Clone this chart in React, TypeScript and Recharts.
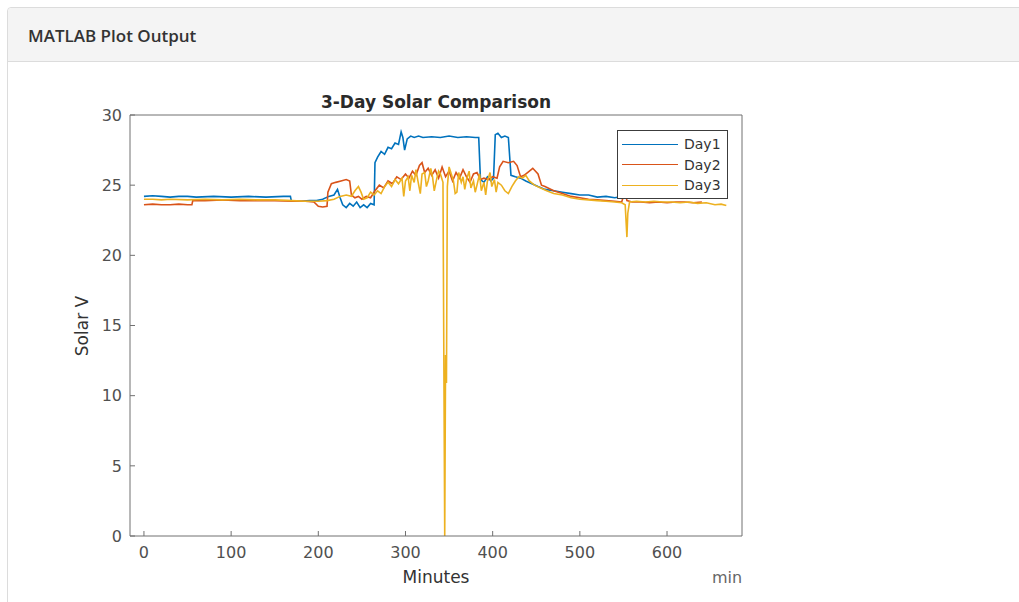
import { LineChart, Line, XAxis, YAxis, Legend } from "recharts";

// minutes / volts
const day1Min = [0, 10, 20, 30, 40, 50, 60, 80, 100, 120, 140, 160, 168, 169, 180, 190, 198, 205, 212, 218, 222, 225, 228, 232, 236, 240, 244, 248, 252, 256, 260, 264, 265, 268, 272, 276, 280, 284, 288, 292, 295, 297, 299, 302, 306, 310, 315, 320, 330, 340, 350, 360, 370, 380, 384, 386, 390, 394, 398, 401, 403, 406, 410, 414, 418, 421, 426, 432, 438, 445, 452, 460, 470, 480, 490, 500, 510, 520, 530, 540, 550, 560, 570, 580, 590, 600, 610, 620, 630, 640, 650];
const day1V = [24.2, 24.25, 24.2, 24.15, 24.2, 24.2, 24.15, 24.2, 24.15, 24.2, 24.15, 24.2, 24.2, 23.9, 23.85, 23.9, 23.9, 24.0, 24.2, 24.3, 24.7, 24.1, 23.6, 23.4, 23.7, 23.5, 23.8, 23.4, 23.6, 23.4, 23.7, 23.6, 26.6, 27.0, 27.4, 27.2, 27.7, 27.6, 28.0, 27.9, 28.8, 28.4, 27.5, 28.3, 28.5, 28.4, 28.5, 28.4, 28.45, 28.4, 28.5, 28.4, 28.45, 28.4, 28.4, 25.4, 25.2, 25.6, 25.3, 25.5, 28.6, 28.7, 28.4, 28.5, 28.4, 25.7, 25.6, 25.5, 25.3, 25.1, 24.9, 24.7, 24.6, 24.5, 24.4, 24.3, 24.3, 24.15, 24.2, 24.1, 24.2, 24.15, 24.2, 24.1, 24.2, 24.15, 24.2, 24.15, 24.2, 24.2, 24.2];

const day2Min = [0, 10, 20, 30, 40, 50, 55, 56, 70, 90, 110, 130, 150, 170, 185, 195, 200, 205, 210, 211, 215, 220, 226, 232, 236, 238, 242, 246, 250, 255, 260, 265, 270, 275, 280, 285, 290, 295, 300, 304, 308, 312, 316, 319, 322, 326, 330, 334, 338, 342, 346, 350, 354, 358, 362, 366, 370, 374, 378, 382, 386, 390, 395, 400, 405, 408, 412, 418, 424, 428, 432, 436, 440, 446, 452, 456, 460, 470, 480, 490, 500, 510, 520, 530, 540, 548, 552, 554, 560, 570, 580, 590, 600, 610, 620, 630, 640];
const day2V = [23.6, 23.65, 23.6, 23.6, 23.65, 23.6, 23.6, 23.9, 23.9, 23.95, 23.9, 23.9, 23.9, 23.85, 23.85, 23.8, 23.5, 23.45, 23.5, 24.5, 25.1, 25.2, 25.3, 25.4, 25.3, 24.3, 24.1, 24.2, 24.0, 24.2, 24.1, 24.6, 25.0, 24.8, 25.3, 25.1, 25.6, 25.4, 25.8, 25.5, 26.0, 25.7, 26.4, 26.6, 25.9, 26.2, 25.7, 26.1, 25.5, 26.3, 25.6, 26.0, 25.3, 25.9, 25.5, 26.1, 25.6, 25.2, 25.8, 25.9, 25.4, 25.5, 25.4, 25.6, 25.5, 26.3, 26.7, 26.6, 26.7, 26.4, 25.6, 25.7, 25.9, 26.2, 25.8, 25.0, 24.9, 24.6, 24.4, 24.2, 24.1, 24.0, 23.95, 23.9, 23.85, 23.8, 24.6, 23.9, 23.8, 23.8, 23.75, 23.8, 23.75, 23.8, 23.8, 23.75, 23.8];

const day3Min = [0, 10, 20, 30, 50, 70, 90, 110, 130, 150, 170, 185, 200, 210, 218, 225, 232, 238, 242, 246, 249, 252, 256, 260, 264, 268, 272, 276, 280, 284, 288, 292, 296, 298, 300, 303, 305, 307, 310, 312, 314, 317, 319, 322, 324, 326, 329, 331, 333, 336, 338, 340, 343, 345, 346, 347, 348, 350, 352, 355, 357, 359, 361, 364, 366, 368, 370, 373, 375, 378, 380, 382, 385, 387, 390, 392, 394, 397, 399, 402, 404, 406, 410, 414, 418, 422, 426, 430, 434, 438, 442, 448, 455, 462, 470, 480, 490, 500, 510, 520, 530, 540, 548, 552, 554, 555, 557, 565, 575, 585, 595, 605, 615, 625, 635, 645, 655, 662, 668];
const day3V = [24.0, 24.0, 23.95, 24.0, 23.95, 24.0, 23.95, 24.0, 23.95, 23.95, 23.9, 23.85, 23.85, 23.9, 24.0, 24.2, 24.3, 24.2, 24.6, 24.9, 24.5, 24.0, 24.1, 24.5, 24.3, 24.6, 24.4, 24.9, 25.2, 24.9, 25.4, 25.1, 25.5, 24.2, 25.3, 25.6, 24.6, 25.7, 25.2, 26.1, 25.4, 24.4, 25.8, 25.9, 24.9, 25.3, 26.2, 25.6, 24.6, 25.5, 26.0, 25.8, 25.2, 0, 12.9, 10.9, 24.9, 26.3, 25.9, 25.3, 24.4, 24.5, 25.9, 25.2, 25.6, 24.7, 25.4, 26.0, 24.8, 25.3, 24.5, 25.0, 25.8, 24.6, 25.2, 24.3, 25.3, 25.9, 24.9, 25.4, 24.5, 25.2, 25.0, 24.6, 24.4, 24.9, 25.3, 25.6, 25.5, 25.7, 25.3, 25.0, 24.8, 24.6, 24.4, 24.3, 24.1, 24.0, 23.95, 23.9, 23.85, 23.8, 23.75, 23.6, 21.3, 23.0, 23.8, 23.85, 23.8, 23.85, 23.8, 23.8, 23.75, 23.8, 23.7, 23.75, 23.6, 23.65, 23.55];

const xTicks = [0, 100, 200, 300, 400, 500, 600];
const yTicks = [0, 5, 10, 15, 20, 25, 30];
const xDomain = [-16, 686];
const yDomain = [0, 30];

const series = [
  { name: "Day1", color: "#0072BD", rows: day1Min.map((m, i) => ({ m, v: day1V[i] })) },
  { name: "Day2", color: "#D95319", rows: day2Min.map((m, i) => ({ m, v: day2V[i] })) },
  { name: "Day3", color: "#EDB120", rows: day3Min.map((m, i) => ({ m, v: day3V[i] })) },
];

const axisColor = "#707070";
const textColor = "#505050";
const font = "'DejaVu Sans', sans-serif";
const tickStyle = { fill: textColor, fontSize: 16, fontFamily: font };

function LegendBox({ payload }: any) {
  return (
    <div style={{ border: "1px solid #3c3c3c", background: "#fff", padding: "3px 4px 2px 4px", boxSizing: "border-box", width: 111, fontFamily: font, fontSize: 14, color: "#333" }}>
      {(payload || []).map((p: any) => (
        <div key={p.value} style={{ display: "flex", alignItems: "center", height: 20.5 }}>
          <span style={{ display: "inline-block", width: 56, borderTop: `1.5px solid ${p.color}`, marginRight: 6 }} />
          <span>{p.value}</span>
        </div>
      ))}
    </div>
  );
}

const at = (x: number, y: number) => ({ position: "absolute" as const, left: x, top: y });

export default function App() {
  return (
    <div style={{ position: "fixed", left: 0, top: 0, width: 1019, height: 602, overflow: "hidden", background: "#fff" }}>
      <div style={{ ...at(7, 7), width: 1030, height: 620, border: "1px solid #dcdcdc", borderRadius: 4, boxSizing: "border-box" }}>
        <div style={{ height: 53, background: "#f4f4f4", borderBottom: "1px solid #dcdcdc", borderRadius: "4px 4px 0 0" }} />
      </div>
      <div style={{ ...at(28, 35), transform: "translateY(-50%)", fontFamily: "'Open Sans', sans-serif", fontWeight: 600, fontSize: 17, color: "#333" }}>
        MATLAB Plot Output
      </div>

      <div style={{ ...at(0, 0) }}>
        <LineChart width={1019} height={602} data={series[0].rows} margin={{ top: 114, left: 80, right: 276, bottom: 36 }}>
          <XAxis dataKey="m" type="number" domain={xDomain} ticks={xTicks} allowDataOverflow height={30}
            stroke={axisColor} tickSize={-5} tickMargin={16} tick={tickStyle} tickLine={{ stroke: axisColor }} />
          <XAxis xAxisId="top" orientation="top" dataKey="m" type="number" domain={xDomain} ticks={xTicks} allowDataOverflow height={1}
            stroke={axisColor} tickSize={-5} tick={false} tickLine={{ stroke: axisColor }} />
          <YAxis type="number" domain={yDomain} ticks={yTicks} allowDataOverflow width={50}
            stroke={axisColor} tickSize={-5} tickMargin={13} tick={tickStyle} tickLine={{ stroke: axisColor }} />
          <YAxis yAxisId="right" orientation="right" type="number" domain={yDomain} ticks={yTicks} allowDataOverflow width={1}
            stroke={axisColor} tickSize={-5} tick={false} tickLine={{ stroke: axisColor }} />
          <Legend layout="horizontal" verticalAlign="middle" align="center" content={<LegendBox />}
            wrapperStyle={{ position: "absolute", left: 617, top: 130, width: 111, height: 66 }} />
          {series.map((s) => (
            <Line key={s.name} data={s.rows} dataKey="v" name={s.name} type="linear" stroke={s.color} strokeWidth={1.6}
              dot={false} activeDot={false} isAnimationActive={false} />
          ))}
        </LineChart>
      </div>

      <div style={{ ...at(436, 102), transform: "translate(-50%, -50%)", fontFamily: font, fontWeight: 700, fontSize: 17, color: "#2a2a2a", whiteSpace: "nowrap" }}>
        3-Day Solar Comparison
      </div>
      <div style={{ ...at(82, 326), transform: "translate(-50%, -50%) rotate(-90deg)", fontFamily: font, fontSize: 17, color: "#333", whiteSpace: "nowrap" }}>
        Solar V
      </div>
      <div style={{ ...at(436, 577), transform: "translate(-50%, -50%)", fontFamily: font, fontSize: 17, color: "#333", whiteSpace: "nowrap" }}>
        Minutes
      </div>
      <div style={{ ...at(727, 577), transform: "translate(-50%, -50%)", fontFamily: font, fontSize: 16, color: "#666", whiteSpace: "nowrap" }}>
        min
      </div>
    </div>
  );
}
